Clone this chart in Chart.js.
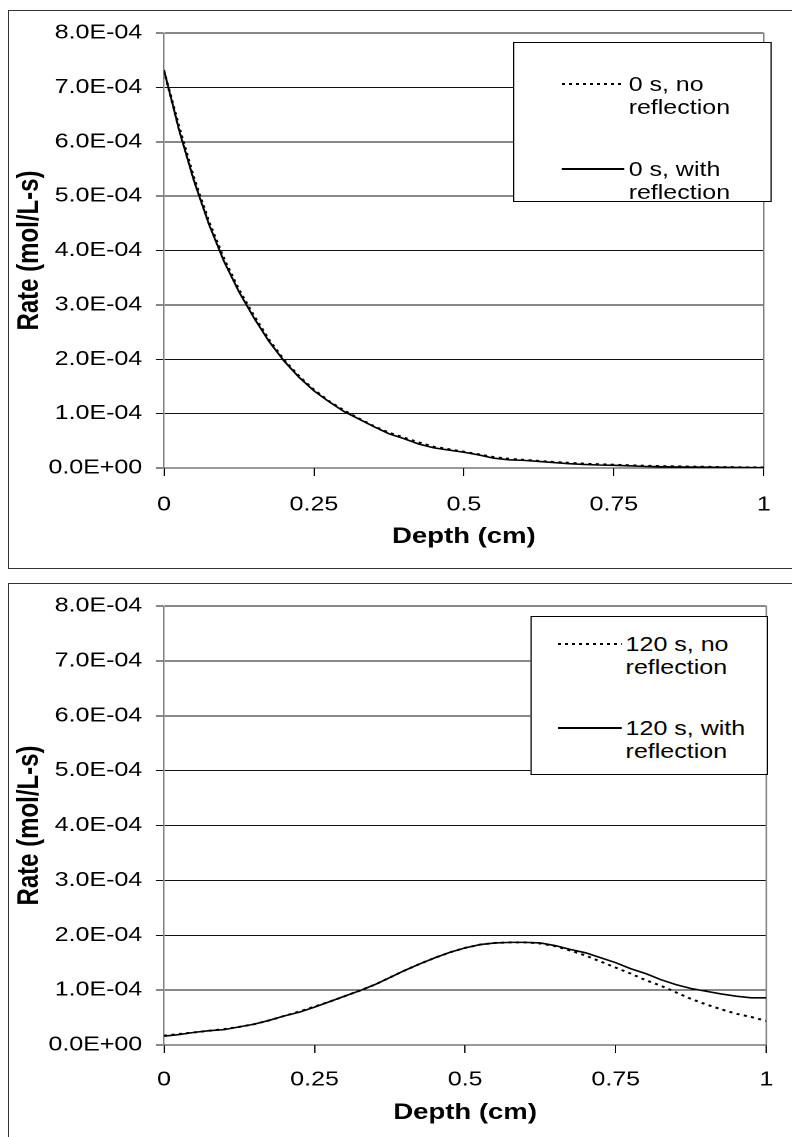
<!DOCTYPE html>
<html><head><meta charset="utf-8">
<script src="https://cdn.jsdelivr.net/npm/chart.js@4.4.1/dist/chart.umd.min.js"></script>
<style>
html,body{margin:0;padding:0;background:#fff;}
body{width:792px;height:1137px;position:relative;overflow:hidden;font-family:'Liberation Sans',Arial,sans-serif;}
.frame{position:absolute;left:8px;width:800px;border:1px solid #333;box-sizing:border-box;}
.wrap{position:absolute;left:8px;transform:scaleX(1.25);transform-origin:0 0;}
.legend{position:absolute;border:1px solid #000;background:#fff;box-sizing:border-box;}
.sample{position:absolute;height:2px;}
.txt{position:absolute;font-size:20px;line-height:23px;color:#000;white-space:nowrap;}
</style></head>
<body>
<div class="frame" style="top:10px;height:559px;"></div>
<div class="frame" style="top:583px;height:600px;"></div>
<div class="wrap" id="w1" style="top:10px;width:627.2px;height:559px;"><canvas id="c1"></canvas></div>
<div class="wrap" id="w2" style="top:583px;width:627.2px;height:553px;"><canvas id="c2"></canvas></div>
<script>
// ---- data ----
const depth = [0,0.025,0.05,0.075,0.1,0.125,0.15,0.175,0.2,0.225,0.25,0.275,0.3,0.325,0.35,0.375,0.4,0.425,0.45,0.475,0.5,0.525,0.55,0.575,0.6,0.625,0.65,0.675,0.7,0.725,0.75,0.775,0.8,0.825,0.85,0.875,0.9,0.925,0.95,0.975,1];

const rate0sNoRefl = [7.30e-4,6.28e-4,5.33e-4,4.53e-4,3.85e-4,3.28e-4,2.80e-4,2.36e-4,1.99e-4,1.69e-4,1.44e-4,1.23e-4,1.06e-4,0.91e-4,0.77e-4,0.65e-4,0.56e-4,0.47e-4,0.39e-4,0.345e-4,0.30e-4,0.25e-4,0.20e-4,0.17e-4,0.15e-4,0.13e-4,0.11e-4,0.095e-4,0.08e-4,0.068e-4,0.06e-4,0.05e-4,0.042e-4,0.036e-4,0.03e-4,0.026e-4,0.022e-4,0.018e-4,0.015e-4,0.012e-4,0.01e-4];
const rate0sRefl = [7.32e-4,6.22e-4,5.28e-4,4.48e-4,3.80e-4,3.24e-4,2.76e-4,2.33e-4,1.97e-4,1.67e-4,1.42e-4,1.22e-4,1.04e-4,0.90e-4,0.76e-4,0.63e-4,0.54e-4,0.44e-4,0.37e-4,0.33e-4,0.29e-4,0.24e-4,0.18e-4,0.15e-4,0.14e-4,0.12e-4,0.10e-4,0.08e-4,0.065e-4,0.055e-4,0.05e-4,0.04e-4,0.03e-4,0.025e-4,0.02e-4,0.018e-4,0.015e-4,0.012e-4,0.01e-4,0.008e-4,0.007e-4];

const rate120sNoRefl = [0.17e-4,0.20e-4,0.23e-4,0.26e-4,0.29e-4,0.33e-4,0.38e-4,0.45e-4,0.53e-4,0.61e-4,0.70e-4,0.79e-4,0.89e-4,0.99e-4,1.10e-4,1.23e-4,1.36e-4,1.48e-4,1.59e-4,1.69e-4,1.77e-4,1.83e-4,1.86e-4,1.87e-4,1.87e-4,1.85e-4,1.80e-4,1.72e-4,1.63e-4,1.52e-4,1.41e-4,1.30e-4,1.18e-4,1.08e-4,0.96e-4,0.84e-4,0.74e-4,0.65e-4,0.57e-4,0.51e-4,0.44e-4];
const rate120sRefl = [0.16e-4,0.19e-4,0.23e-4,0.26e-4,0.28e-4,0.33e-4,0.38e-4,0.45e-4,0.53e-4,0.60e-4,0.69e-4,0.79e-4,0.89e-4,0.99e-4,1.10e-4,1.23e-4,1.36e-4,1.48e-4,1.59e-4,1.69e-4,1.77e-4,1.83e-4,1.86e-4,1.87e-4,1.87e-4,1.86e-4,1.81e-4,1.74e-4,1.68e-4,1.59e-4,1.50e-4,1.39e-4,1.30e-4,1.19e-4,1.10e-4,1.03e-4,0.98e-4,0.93e-4,0.89e-4,0.86e-4,0.86e-4];

const yTickLabels = ['0.0E+00','1.0E-04','2.0E-04','3.0E-04','4.0E-04','5.0E-04','6.0E-04','7.0E-04','8.0E-04'];
const xTickLabels = ['0','0.25','0.5','0.75','1'];
const yStep = 1e-4, xStep = 0.25;
const legendTop = [['0 s, no','reflection'],['0 s, with','reflection']];
const legendBottom = [['120 s, no','reflection'],['120 s, with','reflection']];
const xTitle = 'Depth (cm)';
const yTitle = 'Rate (mol/L-s)';

// ---- chart ----
Chart.defaults.font.family = "'Liberation Sans', Arial, sans-serif";
Chart.defaults.color = '#000';

function pts(ys){ return depth.map((x,i)=>({x:x,y:ys[i]})); }

function makeChart(id, noRefl, refl, labels, L) {
  return new Chart(document.getElementById(id), {
    type: 'line',
    data: { datasets: [
      { label: labels[0].join(' '), data: pts(noRefl), borderColor:'#000', borderWidth:2, borderDash:[2.5,3.5], pointRadius:0, fill:false, tension:0 },
      { label: labels[1].join(' '), data: pts(refl), borderColor:'#000', borderWidth:1.6, pointRadius:0, fill:false, tension:0 }
    ]},
    options: {
      responsive:true, maintainAspectRatio:false, animation:false, devicePixelRatio:2,
      layout:{ padding:{ left:0, top:L.top, right:12.8, bottom:0 } },
      plugins:{ legend:{display:false}, tooltip:{enabled:false} },
      scales:{
        x:{ type:'linear', min:0, max:1,
            ticks:{ stepSize:xStep, autoSkip:false, maxRotation:0, padding:L.xPad, font:{size:20}, color:'#000',
                    callback:(v)=>xTickLabels[Math.round(v/xStep)] },
            grid:{ drawOnChartArea:false, drawTicks:true, tickLength:8, color:'#000' },
            border:{ display:true, color:'#333', width:1 },
            title:{ display:true, text:xTitle, font:{size:22, weight:'bold'}, padding:{top:0,bottom:L.xTitlePad} },
            afterFit:(s)=>{ s.height = L.xH; } },
        y:{ min:0, max:8e-4,
            ticks:{ stepSize:yStep, padding:11, font:{size:20}, color:'#000',
                    callback:(v)=>yTickLabels[Math.round(v/yStep)] },
            grid:{ color:'#111', lineWidth:1, drawTicks:true, tickLength:6.4 },
            border:{ display:true, color:'#808080', width:1.2 },
            title:{ display:true, text:yTitle, font:{size:24, weight:'bold'}, padding:{top:3,bottom:0} },
            afterFit:(s)=>{ s.width = 124.8; } },
        yR:{ position:'right', display:true, min:0, max:1,
            ticks:{ display:false }, grid:{ display:false },
            border:{ display:true, color:'#808080', width:1.2 },
            afterFit:(s)=>{ s.width = 0; } }
      }
    }
  });
}

makeChart('c1', rate0sNoRefl, rate0sRefl, legendTop, {top:20, xH:101, xPad:17, xTitlePad:19});
makeChart('c2', rate120sNoRefl, rate120sRefl, legendBottom, {top:23, xH:91, xPad:15, xTitlePad:10});

function makeLegend(wrapId, labels, box) {
  const lg = document.createElement('div');
  lg.className = 'legend';
  Object.assign(lg.style, {left:box.left+'px', top:box.top+'px', width:box.w+'px', height:box.h+'px'});
  labels.forEach((lines, k) => {
    const c0 = box.centers[k];
    const s = document.createElement('div');
    s.className = 'sample';
    s.style.left = box.sx + 'px'; s.style.width = box.sw + 'px'; s.style.top = (c0 - 1) + 'px';
    s.style.background = k === 0 ? 'repeating-linear-gradient(to right,#000 0 2.6px,transparent 2.6px 5.6px)' : '#000';
    if (k === 1) s.style.height = '1.6px';
    lg.appendChild(s);
    const t = document.createElement('div');
    t.className = 'txt';
    t.style.left = box.tx + 'px'; t.style.top = (c0 - 11.5) + 'px';
    t.innerHTML = lines.join('<br>');
    lg.appendChild(t);
  });
  document.getElementById(wrapId).appendChild(lg);
}
makeLegend('w1', legendTop, {left:404, top:32, w:207, h:160, sx:37.6, sw:50, tx:91.5, centers:[41,126]});
makeLegend('w2', legendBottom, {left:417.6, top:33, w:190, h:159, sx:21.6, sw:51, tx:75.5, centers:[27,111]});
</script>
</body></html>
